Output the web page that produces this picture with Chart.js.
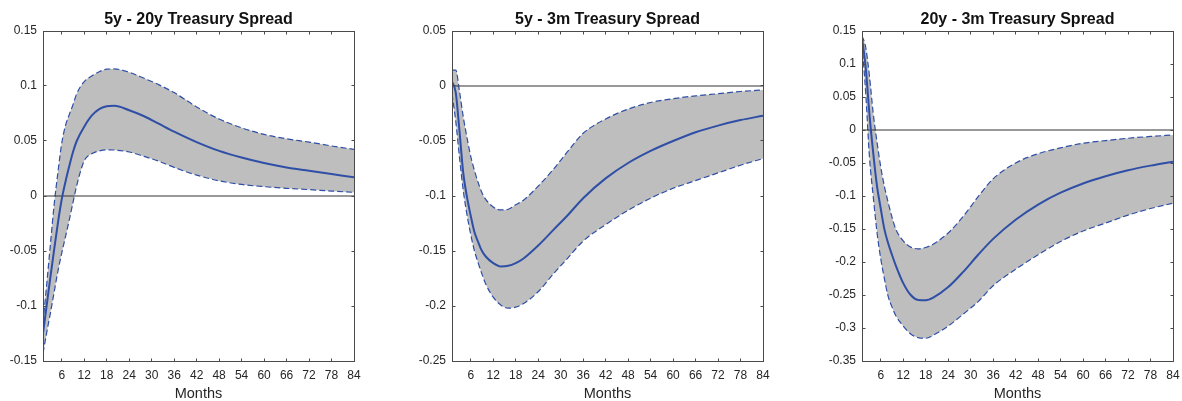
<!DOCTYPE html>
<html>
<head>
<meta charset="utf-8">
<script src="https://cdn.jsdelivr.net/npm/chart.js@4.4.1/dist/chart.umd.min.js"></script>
<style>
  html, body { margin: 0; padding: 0; background: #fff; }
  #wrap { position: relative; width: 1182px; height: 401px; overflow: hidden; }
  canvas { position: absolute; top: 0; }
</style>
</head>
<body>
<div id="wrap">
  <canvas id="spread1" width="397" height="401" style="left:0px"></canvas>
  <canvas id="spread2" width="397" height="401" style="left:409px"></canvas>
  <canvas id="spread3" width="397" height="401" style="left:819px"></canvas>
</div>
<script>
// Impulse responses (months after the shock) with error bands
const months = [1, 2, 3, 4, 5, 6, 7, 8, 9, 10, 12, 14, 16, 18, 20, 24, 28, 32, 36, 42, 48, 54, 60, 66, 72, 78, 84];
const monthTicks = [6, 12, 18, 24, 30, 36, 42, 48, 54, 60, 66, 72, 78, 84];

// 5y - 20y
const spread1Median = [-0.125, -0.099, -0.073, -0.048, -0.024, -0.003, 0.013, 0.027, 0.040, 0.050, 0.063, 0.073, 0.079, 0.0815, 0.082, 0.078, 0.0725, 0.0655, 0.0585, 0.049, 0.041, 0.035, 0.030, 0.026, 0.023, 0.020, 0.017];
const spread1Upper = [-0.115, -0.080, -0.043, -0.007, 0.022, 0.048, 0.064, 0.074, 0.083, 0.093, 0.104, 0.109, 0.113, 0.1153, 0.1155, 0.1125, 0.107, 0.101, 0.094, 0.081, 0.070, 0.062, 0.056, 0.052, 0.049, 0.0455, 0.0424];
const spread1Lower = [-0.143, -0.124, -0.106, -0.087, -0.068, -0.052, -0.037, -0.022, -0.006, 0.0095, 0.032, 0.0385, 0.041, 0.042, 0.0418, 0.040, 0.036, 0.0315, 0.026, 0.019, 0.0138, 0.0105, 0.0085, 0.007, 0.0058, 0.0045, 0.0033];
const spread1Ticks = [-0.15, -0.1, -0.05, 0, 0.05, 0.1, 0.15];

// 5y - 3m
const spread2Median = [0.004, -0.006, -0.041, -0.079, -0.101, -0.118, -0.133, -0.142, -0.150, -0.155, -0.161, -0.164, -0.1635, -0.161, -0.157, -0.145, -0.131, -0.117, -0.102, -0.084, -0.070, -0.059, -0.050, -0.042, -0.036, -0.031, -0.027];
const spread2Upper = [0.0145, 0.0145, -0.005, -0.028, -0.047, -0.064, -0.077, -0.088, -0.097, -0.103, -0.110, -0.1127, -0.112, -0.108, -0.104, -0.091, -0.076, -0.059, -0.043, -0.030, -0.021, -0.015, -0.0115, -0.009, -0.007, -0.005, -0.0036];
const spread2Lower = [-0.007, -0.032, -0.065, -0.095, -0.117, -0.135, -0.150, -0.161, -0.171, -0.180, -0.192, -0.199, -0.202, -0.201, -0.198, -0.187, -0.171, -0.156, -0.141, -0.126, -0.113, -0.102, -0.093, -0.086, -0.079, -0.072, -0.066];
const spread2Ticks = [-0.25, -0.2, -0.15, -0.1, -0.05, 0, 0.05];

// 20y - 3m
const spread3Median = [0.140, 0.094, 0.023, -0.035, -0.085, -0.119, -0.151, -0.172, -0.189, -0.205, -0.232, -0.250, -0.2575, -0.258, -0.254, -0.238, -0.215, -0.189, -0.165, -0.136, -0.113, -0.095, -0.081, -0.070, -0.061, -0.054, -0.048];
const spread3Upper = [0.143, 0.125, 0.081, 0.025, -0.018, -0.056, -0.086, -0.110, -0.132, -0.150, -0.168, -0.1775, -0.180, -0.178, -0.173, -0.156, -0.131, -0.101, -0.074, -0.050, -0.036, -0.027, -0.020, -0.016, -0.0125, -0.0098, -0.0075];
const spread3Lower = [0.131, 0.055, -0.042, -0.101, -0.155, -0.195, -0.226, -0.2526, -0.268, -0.281, -0.297, -0.309, -0.3145, -0.3155, -0.311, -0.297, -0.279, -0.260, -0.236, -0.211, -0.189, -0.169, -0.153, -0.141, -0.129, -0.119, -0.111];
const spread3Ticks = [-0.35, -0.3, -0.25, -0.2, -0.15, -0.1, -0.05, 0, 0.05, 0.1, 0.15];

const lineBlue = "#2f4fa6";
const bandGrey = "#bebebe";
const axisColor = "#4a4a4a";
const textColor = "#262626";
const fontFamily = "'Liberation Sans', Arial, Helvetica, sans-serif";

const toPoints = vals => vals.map((v, i) => ({ x: months[i], y: v }));

// Box round the plot with tick marks pointing inwards on all four sides
const boxPlugin = {
    id: "box",
    afterDatasetsDraw(chart) {
        const { ctx, chartArea: a, scales: { x, y } } = chart;
        const l = Math.floor(a.left) + 0.5, r = Math.floor(a.right) + 0.5;
        const t = Math.floor(a.top) + 0.5, b = Math.floor(a.bottom) + 0.5;
        const len = 3;
        ctx.save();
        ctx.strokeStyle = axisColor;
        ctx.lineWidth = 1;
        ctx.strokeRect(l, t, r - l, b - t);
        ctx.beginPath();
        x.ticks.forEach(tk => {
            const px = Math.floor(x.getPixelForValue(tk.value)) + 0.5;
            ctx.moveTo(px, b); ctx.lineTo(px, b - len);
            ctx.moveTo(px, t); ctx.lineTo(px, t + len);
        });
        y.ticks.forEach(tk => {
            const py = Math.floor(y.getPixelForValue(tk.value)) + 0.5;
            ctx.moveTo(l, py); ctx.lineTo(l + len, py);
            ctx.moveTo(r, py); ctx.lineTo(r - len, py);
        });
        ctx.stroke();
        ctx.restore();
    }
};

function makePanel(id, title, median, upper, lower, yTicks) {
    const yMin = yTicks[0], yMax = yTicks[yTicks.length - 1];
    new Chart(document.getElementById(id), {
        type: "line",
        data: {
            datasets: [
                { data: toPoints(median), borderColor: lineBlue, borderWidth: 2, fill: false },
                { data: [{ x: months[0], y: 0 }, { x: months[months.length - 1], y: 0 }],
                  borderColor: "#333", borderWidth: 1, fill: false, cubicInterpolationMode: "default", tension: 0 },
                { data: toPoints(lower), borderColor: lineBlue, borderWidth: 1.2, borderDash: [6, 3], fill: false },
                { data: toPoints(upper), borderColor: lineBlue, borderWidth: 1.2, borderDash: [6, 3],
                  fill: { target: 2 }, backgroundColor: bandGrey }
            ]
        },
        options: {
            responsive: false,
            devicePixelRatio: 1,
            animation: false,
            layout: { padding: { left: 0, right: 43, top: 0, bottom: 0 } },
            elements: {
                point: { radius: 0 },
                line: { cubicInterpolationMode: "monotone" }
            },
            plugins: {
                legend: { display: false },
                tooltip: { enabled: false },
                filler: { drawTime: "beforeDatasetsDraw" },
                title: {
                    display: true,
                    fullSize: false,
                    text: title,
                    color: "#111",
                    font: { family: fontFamily, size: 16, weight: "bold", lineHeight: 1.2 },
                    padding: { top: 10, bottom: 1.8 }
                }
            },
            scales: {
                x: {
                    type: "linear",
                    min: months[0],
                    max: months[months.length - 1],
                    grid: { display: false, drawTicks: false },
                    border: { display: false },
                    afterBuildTicks: s => { s.ticks = monthTicks.map(v => ({ value: v })); },
                    afterFit: s => { s.height = 40; },
                    ticks: {
                        autoSkip: false,
                        maxRotation: 0,
                        padding: 7,
                        color: textColor,
                        font: { family: fontFamily, size: 12 }
                    },
                    title: {
                        display: true,
                        text: "Months",
                        color: textColor,
                        padding: { top: 0, bottom: 0 },
                        font: { family: fontFamily, size: 14.5, lineHeight: 1 }
                    }
                },
                y: {
                    min: yMin,
                    max: yMax,
                    grid: { display: false, drawTicks: false },
                    border: { display: false },
                    afterBuildTicks: s => { s.ticks = yTicks.map(v => ({ value: v })); },
                    afterFit: s => { s.width = 43; },
                    ticks: {
                        padding: 6,
                        color: textColor,
                        font: { family: fontFamily, size: 12 },
                        callback: v => String(Number(v.toFixed(2)))
                    }
                }
            }
        },
        plugins: [boxPlugin]
    });
}

makePanel("spread1", "5y - 20y Treasury Spread", spread1Median, spread1Upper, spread1Lower, spread1Ticks);
makePanel("spread2", "5y - 3m Treasury Spread", spread2Median, spread2Upper, spread2Lower, spread2Ticks);
makePanel("spread3", "20y - 3m Treasury Spread", spread3Median, spread3Upper, spread3Lower, spread3Ticks);
</script>
</body>
</html>
